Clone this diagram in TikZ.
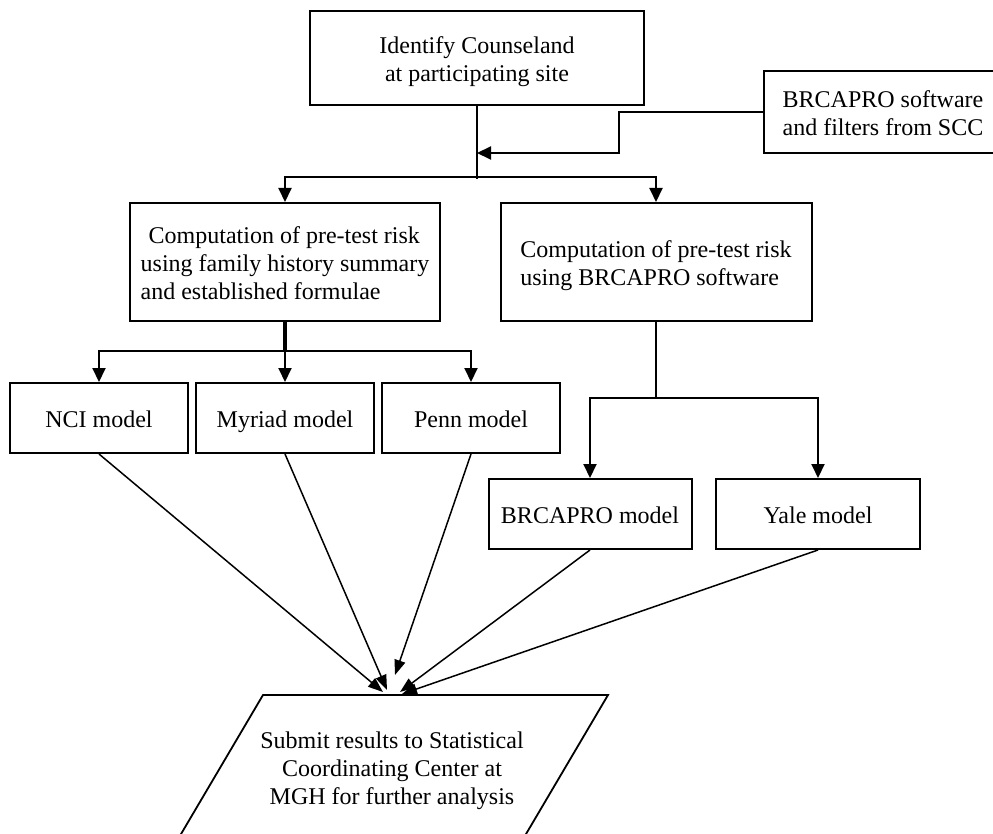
\documentclass[tikz,border=0pt]{standalone}
\usepackage{fontspec}
\setmainfont{Liberation Serif}
\usetikzlibrary{arrows.meta}
\newcommand{\tsx}{\rule{0pt}{25pt}}
\newcommand{\bsx}{\rule[-6pt]{0pt}{6pt}}
\begin{document}
\begin{tikzpicture}[x=1pt,y=-1pt,
  txt/.style={font=\fontsize{24}{28}\selectfont},
  box/.style={draw, line width=2pt, inner sep=0pt, align=center, txt},
  conn/.style={line width=2pt},
  arr/.style={conn, -{Triangle[length=14pt,width=13pt]}},
  darr/.style={line width=1.5pt, -{Triangle[length=15pt,width=11pt]}}]
\useasboundingbox (0,0) rectangle (993,834);
% boxes
\node[box, minimum width=334pt, minimum height=94pt] (top) at (477,58) {\tsx Identify Counseland\\at participating site\bsx};
\node[box, minimum width=238pt, minimum height=82pt] (soft) at (883,112) {\tsx BRCAPRO software\\and filters from SCC\bsx};
\node[box, align=left, minimum width=310pt, minimum height=118pt] (compL) at (285,262) {\tsx\hspace*{8pt}Computation of pre-test risk\\using family history summary\\and established formulae\bsx};
\node[box, align=left, minimum width=311pt, minimum height=118pt] (compR) at (656,262) {\tsx Computation of pre-test risk\\using BRCAPRO software\bsx};
\node[box, minimum width=178pt, minimum height=70pt] (nci) at (99,418) {\tsx NCI model\bsx};
\node[box, minimum width=178pt, minimum height=70pt] (myr) at (285,418) {\tsx Myriad model\bsx};
\node[box, minimum width=178pt, minimum height=70pt] (penn) at (471,418) {\tsx Penn model\bsx};
\node[box, minimum width=203pt, minimum height=70pt] (brm) at (590,514) {\tsx BRCAPRO model\bsx};
\node[box, minimum width=204pt, minimum height=70pt] (yale) at (818,514) {\tsx Yale model\bsx};
% parallelogram
\coordinate (pTL) at (263,695);
\coordinate (pTR) at (608,695);
\coordinate (pBR) at (522.5,840);
\coordinate (pBL) at (177.5,840);
\draw[line width=1.8pt] (pTL) -- (pTR) -- (pBR) -- (pBL) -- cycle;
\node[txt, align=center] (sub) at (392,771) {Submit results to Statistical\\Coordinating Center at\\MGH for further analysis};
% junctions
\coordinate (j1) at (477,177);
\coordinate (j1e) at (477,179);
\coordinate (j2) at (477,153);
\coordinate (j3) at (285,351);
\coordinate (j4) at (656,398);
% connectors top
\draw[conn] (top.south) -- (j1e);
\draw[arr] (j1) -| (compL.north);
\draw[arr] (j1) -| (compR.north);
\draw[arr] (soft.west) -- ++(-144,0) |- (j2);
% left branch
\draw[line width=3.8pt] (compL.south) -- (j3);
\draw[arr] (j3) -| (nci.north);
\draw[arr] (j3) -- (myr.north);
\draw[arr] (j3) -| (penn.north);
% right branch
\draw[conn] (compR.south) -- (j4);
\draw[arr] (j4) -| (brm.north);
\draw[arr] (j4) -| (yale.north);
% to submit
\coordinate (e1) at (383,692);
\coordinate (e2) at (387,690);
\coordinate (e3) at (395,675);
\coordinate (e4) at (400,692);
\coordinate (e5) at (402,694);
\draw[darr] (nci.south) -- (e1);
\draw[darr] (myr.south) -- (e2);
\draw[darr] (penn.south) -- (e3);
\draw[darr] (brm.south) -- (e4);
\draw[darr] (yale.south) -- (e5);
\end{tikzpicture}
\end{document}
